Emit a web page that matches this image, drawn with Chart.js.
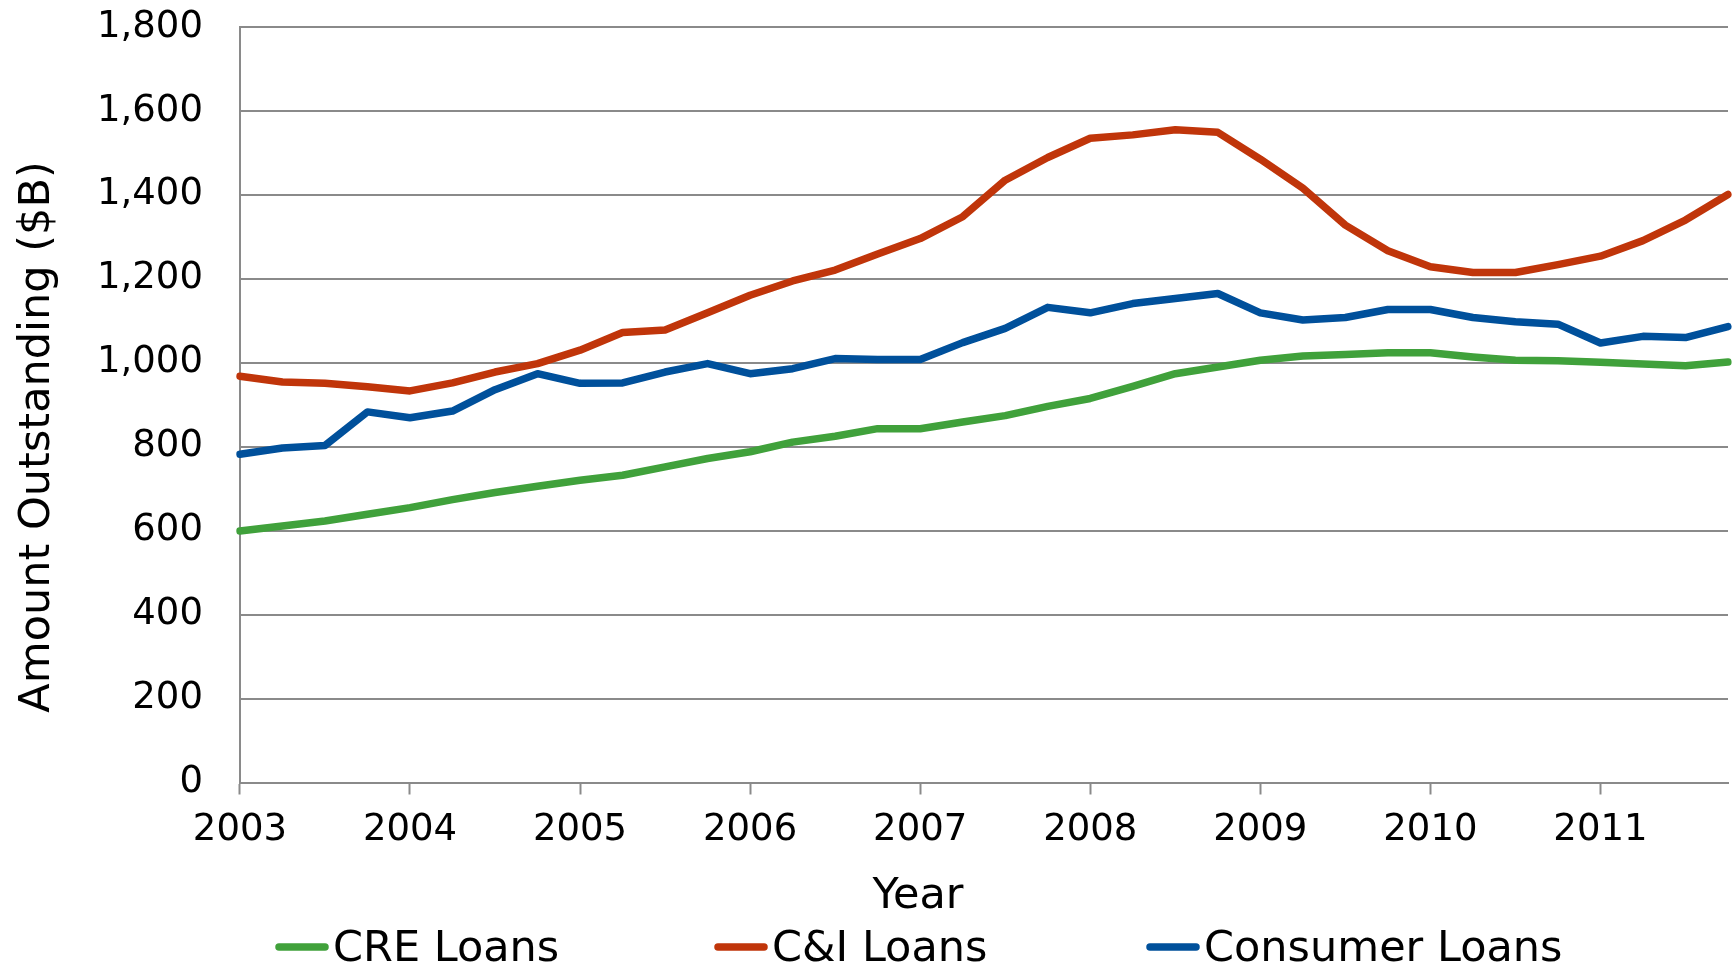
<!DOCTYPE html>
<html>
<head>
<meta charset="utf-8">
<title>Loans Outstanding</title>
<script src="https://cdn.jsdelivr.net/npm/chart.js@4.4.1/dist/chart.umd.min.js"></script>
<style>
  html, body { margin: 0; padding: 0; background: #ffffff; }
  #wrap { width: 1736px; height: 966px; position: relative; }
</style>
</head>
<body>
<div id="wrap"><canvas id="chart" width="1736" height="966"></canvas></div>
<script>
// Quarterly observations, 2003 Q1 through 2011 Q4
const quarters = [];
for (let y = 2003; y <= 2011; y++) {
  for (let q = 1; q <= 4; q++) quarters.push(y + ' Q' + q);
}

const seriesNames = ['CRE Loans', 'C&I Loans', 'Consumer Loans'];
const xAxisTitle = 'Year';
const yAxisTitle = 'Amount Outstanding ($B)';

// Amount outstanding, $ billions
const creLoans = [599, 611, 623, 639, 655, 674, 691, 706, 720, 732, 752, 772,
  788, 811, 825, 843, 843, 859, 874, 896, 915, 944, 974, 990,
  1006, 1016, 1020, 1024, 1024, 1014, 1006, 1005, 1001, 997, 993, 1002];

const ciLoans = [968, 954, 951, 943, 933, 952, 978, 998, 1030, 1072, 1078, 1119,
  1161, 1195, 1221, 1259, 1296, 1348, 1435, 1489, 1535, 1543, 1555, 1549,
  1485, 1416, 1328, 1267, 1229, 1215, 1215, 1234, 1254, 1291, 1340, 1401];

const consumerLoans = [782, 797, 803, 883, 869, 885, 936, 974, 951, 952, 978, 998,
  974, 986, 1010, 1008, 1008, 1048, 1082, 1132, 1119, 1141, 1153, 1165,
  1119, 1102, 1108, 1127, 1127, 1108, 1098, 1092, 1047, 1063, 1060, 1086];

const seriesColors = ['#40a13b', '#c0350a', '#00509b'];

const FONT = "'DejaVu Sans', Verdana, sans-serif";
const GRID = '#8a8a8a';

// Axis titles and the legend row, drawn as canvas text after the chart
const chartAnnotations = {
  id: 'chartAnnotations',
  afterDraw(chart) {
    const ctx = chart.ctx;
    ctx.save();
    ctx.fillStyle = '#000000';
    ctx.font = '43px ' + FONT;
    ctx.textBaseline = 'alphabetic';

    // x-axis title
    ctx.textAlign = 'center';
    ctx.fillText(xAxisTitle, 918, 908);

    // y-axis title, reading upward
    ctx.save();
    ctx.translate(49, 437);
    ctx.rotate(-Math.PI / 2);
    ctx.textAlign = 'center';
    ctx.fillText(yAxisTitle, 0, 0);
    ctx.restore();

    // legend: short stroke in the series colour, then its name
    const starts = [275, 714, 1146];
    const yLine = 947;
    ctx.textAlign = 'left';
    chart.data.datasets.forEach((ds, i) => {
      const x0 = starts[i];
      ctx.strokeStyle = ds.borderColor;
      ctx.lineWidth = 7.5;
      ctx.lineCap = 'round';
      ctx.beginPath();
      ctx.moveTo(x0 + 4, yLine);
      ctx.lineTo(x0 + 50, yLine);
      ctx.stroke();
      ctx.fillText(ds.label, x0 + 58, 961);
    });
    ctx.restore();
  }
};

const makeSet = (label, data, color) => ({
  label: label,
  data: data,
  borderColor: color,
  backgroundColor: color,
  borderWidth: 7.5,
  pointRadius: 0,
  pointHoverRadius: 0,
  tension: 0,
  fill: false,
  borderJoinStyle: 'round',
  borderCapStyle: 'round'
});

new Chart(document.getElementById('chart'), {
  type: 'line',
  data: {
    labels: quarters,
    datasets: [
      makeSet(seriesNames[0], creLoans, seriesColors[0]),
      makeSet(seriesNames[1], ciLoans, seriesColors[1]),
      makeSet(seriesNames[2], consumerLoans, seriesColors[2])
    ]
  },
  plugins: [chartAnnotations],
  options: {
    responsive: false,
    animation: false,
    devicePixelRatio: 1,
    layout: { padding: { top: 27, right: 3, bottom: 100, left: 93 } },
    plugins: {
      legend: { display: false },
      tooltip: { enabled: false }
    },
    scales: {
      x: {
        type: 'category',
        offset: false,
        border: { display: true, color: GRID, width: 2 },
        grid: {
          drawOnChartArea: false,
          drawTicks: true,
          tickLength: 12,
          tickWidth: 2,
          tickColor: (c) => (c.index % 4 === 0 ? GRID : 'rgba(0,0,0,0)')
        },
        ticks: {
          autoSkip: false,
          maxRotation: 0,
          minRotation: 0,
          padding: 8,
          color: '#000000',
          font: { family: FONT, size: 37, lineHeight: 1.5 },
          callback: function (value, index) {
            return index % 4 === 0 ? quarters[index].slice(0, 4) : '';
          }
        },
        title: { display: false }
      },
      y: {
        min: 0,
        max: 1800,
        border: { display: true, color: GRID, width: 2 },
        grid: {
          color: GRID,
          lineWidth: 2,
          drawTicks: true,
          tickLength: 33,
          tickColor: 'rgba(0,0,0,0)'
        },
        ticks: {
          stepSize: 200,
          padding: 4,
          color: '#000000',
          font: { family: FONT, size: 37 },
          callback: (v) => v.toLocaleString('en-US')
        },
        title: { display: false }
      }
    }
  }
});
</script>
</body>
</html>
